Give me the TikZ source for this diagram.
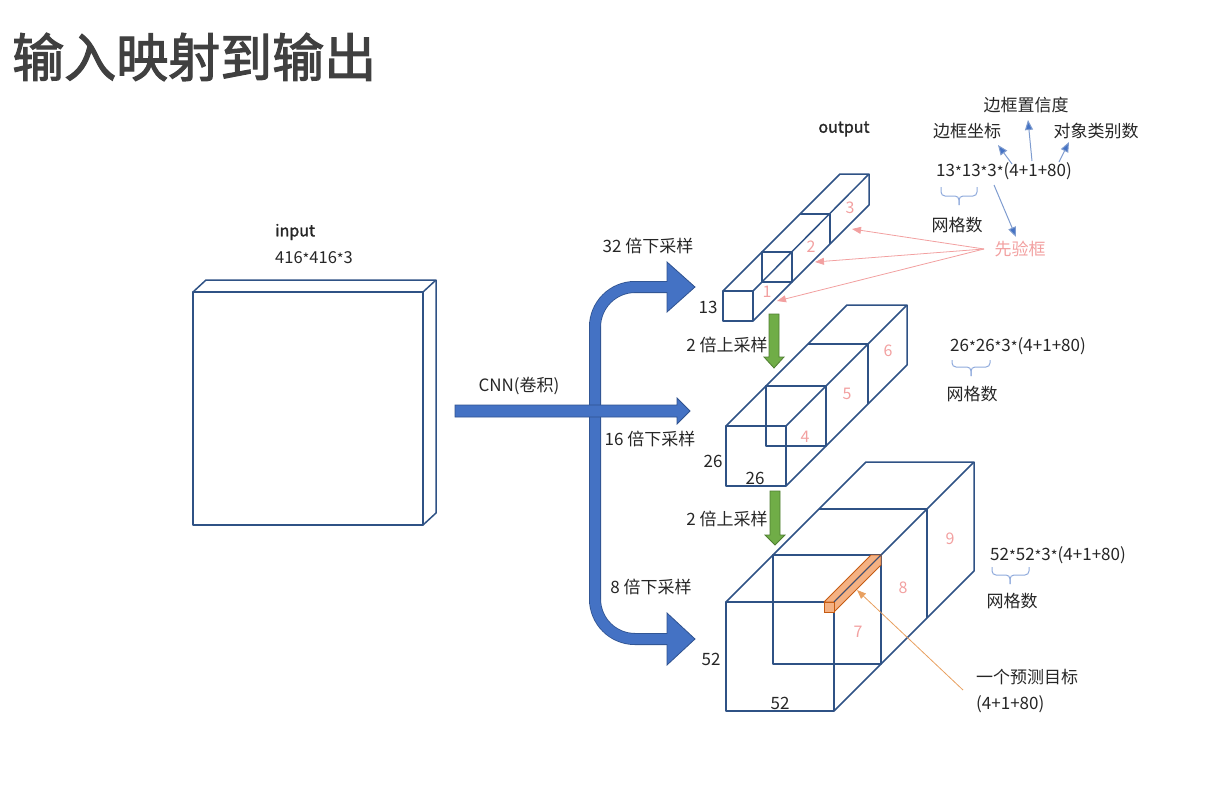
\documentclass[tikz,border=0pt]{standalone}
\usepackage{fontspec}
\setmainfont{Noto Sans CJK SC}
\newfontfamily\titlefont[FakeBold=2.2]{Noto Sans CJK SC}
\newfontfamily\boldlat[FakeBold=1.5]{Noto Sans CJK SC}
\usetikzlibrary{arrows.meta}
\definecolor{edge}{HTML}{2F5285}
\definecolor{txt}{HTML}{262626}
\definecolor{ttl}{HTML}{404040}
\definecolor{pinkc}{HTML}{F2A0A0}
\definecolor{blueA}{HTML}{4472C4}
\definecolor{blueD}{HTML}{2F528F}
\definecolor{blueL}{HTML}{7F9CCF}
\definecolor{greenA}{HTML}{70AD47}
\definecolor{greenD}{HTML}{507E32}
\definecolor{orgF}{HTML}{F4B183}
\definecolor{orgD}{HTML}{C55A11}
\definecolor{orgL}{HTML}{E8A060}
\definecolor{braceC}{HTML}{8FAADC}
\newcommand\sm{\raisebox{-1pt}{\fontsize{14.5}{14}\selectfont *}}
\newcommand\gridbrace[5]{%
  \draw[bracestyle] (#1,#3) -- (#1,#4) -- (#5,#4) -- (#5,#4+9);
  \draw[bracestyle] (#2,#3) -- (#2,#4) -- (#5,#4) -- (#5,#4+9);
}
\begin{document}
\begin{tikzpicture}[x=1pt,y=-1pt,
  lbl/.style={inner sep=0pt, text=txt, font=\fontsize{17}{20}\selectfont},
  pnum/.style={inner sep=0pt, text=pinkc, font=\fontsize{16}{19}\selectfont},
  cub/.style={draw=edge, line width=1.5pt, line join=round},
  bracestyle/.style={draw=braceC, line width=1pt, rounded corners=4pt},
  bluearrow/.style={draw=blueL, line width=1pt, -{Triangle[length=10pt,width=8pt,fill=blueA]}},
  pinkarrow/.style={draw=pinkc, line width=0.8pt, -{Triangle[length=9pt,width=7pt,fill=pinkc]}},
  orgarrow/.style={draw=orgL, line width=0.8pt, -{Triangle[length=9pt,width=7pt,fill=orgL]}},
  greenarrow/.style={fill=greenA, draw=greenD, line width=0.8pt},
]
\useasboundingbox (0,0) rectangle (1215,789);

% title
\node[anchor=west, inner sep=0pt, text=ttl, font=\titlefont\fontsize{52}{60}\selectfont] (title) at (12,57) {输入映射到输出};

% input slab
\draw[cub] (193,292) rectangle (423,525);
\draw[cub] (193,292) -- (206,280) -- (436,280) -- (423,292);
\draw[cub] (423,525) -- (436,513) -- (436,280);
\node[lbl, anchor=west, font=\boldlat\fontsize{16}{19}\selectfont] (inp) at (275,232) {input};
\node[lbl, anchor=west, font=\fontsize{16.5}{19}\selectfont] (inpsz) at (275,258) {416\sm416\sm3};

% blue bent arrow
\draw[line width=12pt, draw=blueD, rounded corners=40pt] (667,287) -- (595,287) -- (595,639) -- (667,639);
\filldraw[fill=blueA, draw=blueD, line width=0.8pt] (667,262) -- (695,287) -- (667,312) -- cycle;
\filldraw[fill=blueA, draw=blueD, line width=0.8pt] (667,613) -- (695,639) -- (667,665) -- cycle;
\draw[line width=10.4pt, draw=blueA, rounded corners=40pt] (669,287) -- (595,287) -- (595,639) -- (669,639);
% CNN arrow
\filldraw[fill=blueA, draw=blueD, line width=0.8pt] (455,405) -- (677,405) -- (677,398) -- (690,411) -- (677,424) -- (677,417) -- (455,417) -- cycle;

\node[lbl] (cnn) at (519,386) {CNN(卷积)};
\node[lbl] (d32) at (648,246) {32 倍下采样};
\node[lbl] (d16) at (650,439) {16 倍下采样};
\node[lbl] (d8) at (651,587) {8 倍下采样};

% top cuboid 13
\draw[cub] (723,291) rectangle (753,321);
\draw[cub] (723,291) -- (840,174) -- (869,174) -- (753,291);
\draw[cub] (753,321) -- (869,205) -- (869,174);
\draw[cub] (762,252) rectangle (792,282);
\draw[cub] (800,214) -- (830,214) -- (830,244);
\node[pnum] (n3) at (850,208) {3};
\node[pnum] (n2) at (811,247) {2};
\node[pnum] (n1) at (767,292) {1};
\node[lbl] (s13) at (708,307) {13};

% middle cuboid 26
\draw[cub] (726,426) rectangle (786,486);
\draw[cub] (726,426) -- (847,305) -- (907,305) -- (786,426);
\draw[cub] (786,486) -- (907,365) -- (907,305);
\draw[cub] (766,386) rectangle (826,446);
\draw[cub] (808,344) -- (868,344) -- (868,404);
\node[pnum] (n6) at (888,351) {6};
\node[pnum] (n5) at (847,394) {5};
\node[pnum] (n4) at (805,437) {4};
\node[lbl] (s26a) at (713,461) {26};
\node[lbl] (s26b) at (755,478) {26};

% bottom cuboid 52
\draw[cub] (726,602) rectangle (834,711);
\draw[cub] (726,602) -- (866,462) -- (974,462) -- (834,602);
\draw[cub] (834,711) -- (974,571) -- (974,462);
\draw[cub] (773,555) rectangle (881,664);
\draw[cub] (819,509) -- (927,509) -- (927,618);
\node[pnum] (n9) at (950,539) {9};
\node[pnum] (n8) at (903,588) {8};
\node[pnum] (n7) at (858,632) {7};
\node[lbl] (s52a) at (711,659) {52};
\node[lbl] (s52b) at (780,703) {52};

% orange bar
\filldraw[fill=orgF, draw=orgD, line width=0.8pt, line join=round] (824,602) -- (834,602) -- (881,555) -- (871,555) -- cycle;
\filldraw[fill=orgF, draw=orgD, line width=0.8pt, line join=round] (834,602) -- (834,612) -- (881,565) -- (881,555) -- cycle;
\filldraw[fill=orgF, draw=orgD, line width=0.8pt] (824,602) rectangle (834,612);
\draw[draw=edge, line width=1pt] (834,602) -- (881,555);

% green arrows
\filldraw[greenarrow] (769,314) -- (779,314) -- (779,357) -- (784,357) -- (774,368) -- (764,357) -- (769,357) -- cycle;
\filldraw[greenarrow] (770,491) -- (780,491) -- (780,535) -- (785,535) -- (775,545) -- (765,535) -- (770,535) -- cycle;
\node[lbl] (u1) at (727,345) {2 倍上采样};
\node[lbl] (u2) at (727,519) {2 倍上采样};

% output labels
\node[lbl, font=\boldlat\fontsize{16}{19}\selectfont] (out) at (844,129) {output};
\node[lbl] (conf) at (1026,105) {边框置信度};
\node[lbl] (bbox) at (967,131) {边框坐标};
\node[lbl] (cls) at (1096,131) {对象类别数};
\node[lbl, anchor=west] (f13) at (936,171) {13\sm13\sm3\sm(4+1+80)};
\gridbrace{941}{977}{187}{196}{959}
\node[lbl] (g13) at (957,225) {网格数};
\node[lbl, text=pinkc] (prior) at (1020,249) {先验框};

\coordinate (a1s) at (1012,164); \coordinate (a1t) at (998,145);
\coordinate (a2s) at (1032,161); \coordinate (a2t) at (1028,120);
\coordinate (a3s) at (1059,162); \coordinate (a3t) at (1069,142);
\coordinate (a4s) at (994,185); \coordinate (a4t) at (1016,237);
\draw[bluearrow] (a1s) -- (a1t);
\draw[bluearrow] (a2s) -- (a2t);
\draw[bluearrow] (a3s) -- (a3t);
\draw[bluearrow] (a4s) -- (a4t);

\coordinate (pk) at (984,249);
\coordinate (p3) at (852,229);
\coordinate (p2) at (815,262);
\coordinate (p1) at (777,301);
\draw[pinkarrow] (pk) -- (p3);
\draw[pinkarrow] (pk) -- (p2);
\draw[pinkarrow] (pk) -- (p1);

\node[lbl, anchor=west] (f26) at (950,346) {26\sm26\sm3\sm(4+1+80)};
\gridbrace{952}{990}{360}{367}{971}
\node[lbl] (g26) at (972,394) {网格数};

\node[lbl, anchor=west] (f52) at (990,555) {52\sm52\sm3\sm(4+1+80)};
\gridbrace{992}{1029}{567}{575}{1010}
\node[lbl] (g52) at (1012,601) {网格数};

\node[lbl, anchor=west] (tgt) at (976,677) {一个预测目标};
\node[lbl, anchor=west] (tgt2) at (976,704) {(4+1+80)};
\coordinate (os) at (963,690);
\coordinate (ot) at (857,590);
\draw[orgarrow] (os) -- (ot);
\end{tikzpicture}
\end{document}
